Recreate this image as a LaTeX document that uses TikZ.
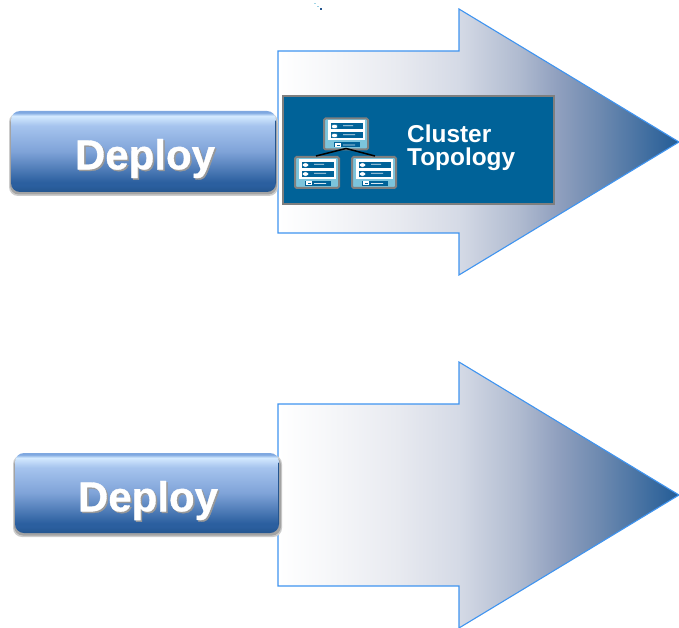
\documentclass[tikz,border=0pt]{standalone}
\usepackage{fontspec}
\setmainfont{Liberation Sans}
\newfontfamily\btnfont[FakeBold=0.8]{Liberation Sans Bold}
\usetikzlibrary{shadows}
\definecolor{arrowline}{HTML}{3F94F0}
\definecolor{boxblue}{HTML}{006298}
\definecolor{boxgray}{HTML}{7F7F7F}
\definecolor{cyanband}{HTML}{7CC4DC}
\definecolor{a0}{HTML}{FFFFFF}
\definecolor{a1}{HTML}{F4F5F8}
\definecolor{a2}{HTML}{E8EAF0}
\definecolor{a3}{HTML}{D5DAE6}
\definecolor{a4}{HTML}{B0BBD0}
\definecolor{a5}{HTML}{8F9FBE}
\definecolor{a6}{HTML}{6E8AB0}
\definecolor{a7}{HTML}{235C96}
\pgfdeclarehorizontalshading{arrowfade}{100bp}{
 color(0bp)=(a0); color(25bp)=(a0); color(32.7bp)=(a1); color(40bp)=(a2); color(47.5bp)=(a3);
 color(55bp)=(a4); color(60bp)=(a5); color(65bp)=(a6); color(75bp)=(a7); color(100bp)=(a7)}
\definecolor{b0}{HTML}{7FA8E0}
\definecolor{b1}{HTML}{D4EAFF}
\definecolor{b2}{HTML}{A6C4EE}
\definecolor{b3}{HTML}{7FA3D8}
\definecolor{b4}{HTML}{2B5F9F}
\definecolor{b5}{HTML}{24558F}
\pgfdeclareverticalshading{btnfade}{100bp}{
 color(0bp)=(b5); color(25bp)=(b5); color(29bp)=(b4); color(31bp)=(b4); color(50bp)=(b3);
 color(66bp)=(b2); color(72bp)=(b1); color(74bp)=(b0); color(75bp)=(b0); color(100bp)=(b0)}
\tikzset{
 x=1pt,y=-1pt,
 bigarrow/.style={draw=arrowline,line width=1.1pt,shading=arrowfade,shading angle=0},
 btnbody/.style={rounded corners=9pt,shading=btnfade,shading angle=0},
 btnshadow/.style={rounded corners=9pt,fill=black!#1},
 btnedge/.style={draw=b5,line width=1pt,line cap=round},
 btnlabel/.style={font=\btnfont\fontsize{42}{42}\selectfont,inner sep=0pt,text=white},
 btnback/.style={font=\btnfont\fontsize{42}{42}\selectfont,inner sep=0pt,text=black!40},
 clusterbox/.style={draw=boxgray,line width=2pt,fill=boxblue},
 clusterlabel/.style={font=\bfseries\fontsize{24.4}{23}\selectfont,text=white,align=left,inner sep=0pt,anchor=west},
 monitor/.style={draw=boxgray,line width=2pt,fill=cyanband,rounded corners=1.5pt},
 monpanel/.style={fill=white},
 monbar/.style={fill=boxblue},
 monoval/.style={fill=white,draw=boxblue,line width=.4pt},
 link/.style={draw=black,line width=1.5pt},
 speck/.style={minimum size=1.3pt,inner sep=0pt,fill=#1}
}
\newcommand{\mon}[3]{%
 \begin{scope}[shift={(#2,#3)}]
 \path[monitor] (1,1) rectangle (45,32);
 \path[monpanel] (5,3) rectangle (42,23);
 \path[monbar] (8,6) rectangle (40,12);
 \path[monbar] (8,15) rectangle (40,21);
 \path[monoval] (11.5,9) ellipse (3.2 and 2.2);
 \path[monoval] (11.5,18) ellipse (3.2 and 2.2);
 \path[monbar] (11,25) rectangle (37,30);
 \path[fill=white] (12,25.5) rectangle (18,29.5);
 \path[fill=boxblue] (13.5,27.1) rectangle (16.5,27.9);
 \path[fill=white!85!boxblue] (20,7.8) rectangle (30,8.6) (20,16.8) rectangle (32,17.6) (20,27.1) rectangle (32,27.9);
 \end{scope}}
\begin{document}
\begin{tikzpicture}
\useasboundingbox (0,0) rectangle (679,628);
% arrows
\path[bigarrow] (278,51) -- (459,51) -- (459,9) -- (679,142) -- (459,275) -- (459,233) -- (278,233) -- cycle;
\path[bigarrow] (278,404) -- (459,404) -- (459,362) -- (679,495) -- (459,628) -- (459,586) -- (278,586) -- cycle;
% specks
\node[speck=cyanband!70!white] (s1) at (315,3.5) {};
\node[speck=cyanband!80!white] (s2) at (318,6.5) {};
\node[speck=b5] (s3) at (321,9) {};
% buttons
\path[btnshadow=20] (9,113) rectangle (278,196);
\path[btnshadow=36] (10,114) rectangle (277,194.5);
\path[btnbody] (11,111) rectangle (276,192);
\draw[btnedge] (275.6,121) -- (275.6,183);
\node[btnback] (d1s) at (146.5,160) {Deploy};
\node[btnlabel] (d1) at (145,158.5) {Deploy};
\path[btnshadow=20] (13,455) rectangle (282,537);
\path[btnshadow=36] (14,456) rectangle (281,535.5);
\path[btnbody] (15,453) rectangle (279,533);
\draw[btnedge] (278.6,463) -- (278.6,524);
\node[btnback] (d2s) at (149.5,502) {Deploy};
\node[btnlabel] (d2) at (148,500.5) {Deploy};
% cluster box
\node[clusterbox,minimum width=271pt,minimum height=108pt,inner sep=0pt] (cb) at (418,150.5) {};
\node[clusterlabel] (ct) at (407,148) {Cluster\\Topology};
% topology
\mon{mt}{323}{117.5}
\mon{ml}{294}{156}
\mon{mr}{351}{156}
\coordinate (hub) at (346,148.5);
\coordinate (lt) at (316,156);
\coordinate (rt) at (375,156);
\draw[link] (lt) -- (hub) -- (rt);
\end{tikzpicture}
\end{document}
